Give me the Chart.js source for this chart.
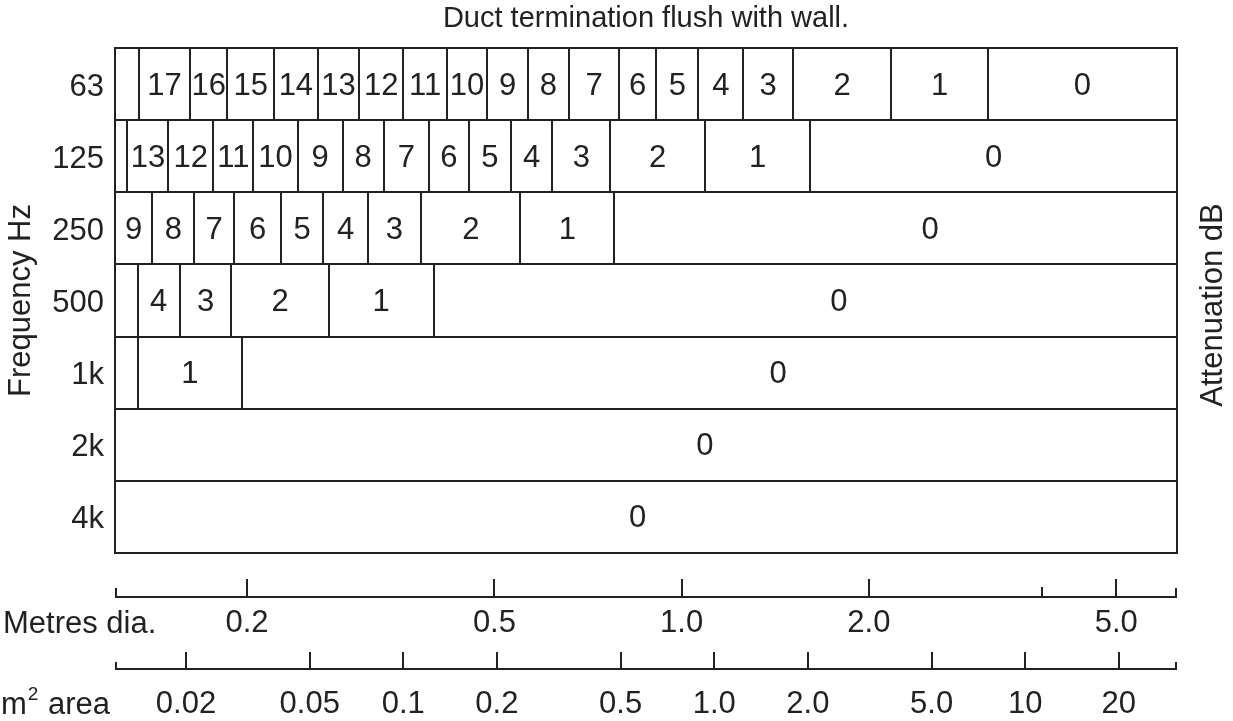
<!DOCTYPE html>
<html>
<head>
<meta charset="utf-8">
<script src="https://cdn.jsdelivr.net/npm/chart.js@4.4.0/dist/chart.umd.min.js"></script>
<style>
html,body{margin:0;padding:0;background:#fff;}
#wrap{width:1233px;height:721px;position:relative;}
</style>
</head>
<body>
<div id="wrap"><canvas id="c" width="1233" height="721"></canvas></div>
<script>
// ---- data ----
const frequencies = ['63', '125', '250', '500', '1k', '2k', '4k'];

// attenuation (dB) of each cell, left to right (null = narrow cell left unlabelled)
const dB63  = [null, 17, 16, 15, 14, 13, 12, 11, 10, 9, 8, 7, 6, 5, 4, 3, 2, 1, 0];
const dB125 = [null, 13, 12, 11, 10, 9, 8, 7, 6, 5, 4, 3, 2, 1, 0];
const dB250 = [9, 8, 7, 6, 5, 4, 3, 2, 1, 0];
const dB500 = [null, 4, 3, 2, 1, 0];
const dB1k  = [null, 1, 0];
const dB2k  = [0];
const dB4k  = [0];

// duct diameters (metres) at which the attenuation steps down
const edges63  = [0.134, 0.162, 0.186, 0.221, 0.260, 0.303, 0.357, 0.419, 0.487, 0.566, 0.659, 0.794, 0.910, 1.064, 1.256, 1.512, 2.172, 3.109];
const edges125 = [0.1285, 0.1495, 0.1766, 0.2049, 0.2412, 0.2850, 0.3318, 0.3923, 0.4549, 0.5316, 0.6198, 0.7676, 1.091, 1.609];
const edges250 = [0.1408, 0.1646, 0.1907, 0.2268, 0.2653, 0.3128, 0.3813, 0.5505, 0.7792];
const edges500 = [0.1334, 0.1559, 0.1888, 0.2706, 0.3995];
const edges1k  = [0.1334, 0.1963];
const edges2k  = [];
const edges4k  = [];

// diameter (m) at which the "0" of the widest cell is written (null = cell centre)
const zeroLabelAt = [null, null, 2.51, 1.79, 1.43, 1.09, 0.85];

// diameter axis
const diaRange = [0.1227, 6.26];
const diaTicks = [0.2, 0.5, 1.0, 2.0, 5.0];
const diaTickLabels = ['0.2', '0.5', '1.0', '2.0', '5.0'];
const diaMinorTicks = [3.8];

// area axis (m²)
const areaTicks = [0.02, 0.05, 0.1, 0.2, 0.5, 1, 2, 5, 10, 20];
const areaTickLabels = ['0.02', '0.05', '0.1', '0.2', '0.5', '1.0', '2.0', '5.0', '10', '20'];

// ---- build ----
const rowsDB = [dB63, dB125, dB250, dB500, dB1k, dB2k, dB4k];
const rowsEdges = [edges63, edges125, edges250, edges500, edges1k, edges2k, edges4k];
const areaRange = diaRange.map(d => Math.PI * d * d / 4);

const INK = '#222222';
const FONT = "'Liberation Sans', Arial, Helvetica, sans-serif";
const FS = 31;
Chart.defaults.font.family = FONT;
Chart.defaults.color = INK;

const datasets = frequencies.map((f, r) => {
  const b = [diaRange[0], ...rowsEdges[r], diaRange[1]];
  return {
    label: f + ' Hz',
    data: rowsDB[r].map((v, i) => ({ y: f, x: [b[i], b[i + 1]], dB: v })),
    backgroundColor: '#ffffff',
    borderWidth: 0,
    inflateAmount: 0,
    grouped: false,
    categoryPercentage: 1,
    barPercentage: 1
  };
});

const decor = {
  id: 'decor',
  afterDatasetsDraw(chart) {
    const ctx = chart.ctx;
    const ca = chart.chartArea;
    const xs = chart.scales.x;
    ctx.save();
    // cell outlines (crisp 2px) from the bar elements
    ctx.lineWidth = 2;
    ctx.strokeStyle = INK;
    chart.data.datasets.forEach((ds, r) => {
      chart.getDatasetMeta(r).data.forEach(el => {
        const l = Math.round(Math.min(el.x, el.base));
        const rr = Math.round(Math.max(el.x, el.base));
        const t = Math.round(el.y - el.height / 2);
        const b = Math.round(el.y + el.height / 2);
        ctx.strokeRect(l, t, rr - l, b - t);
      });
    });
    ctx.strokeRect(Math.round(ca.left), Math.round(ca.top), Math.round(ca.right) - Math.round(ca.left), Math.round(ca.bottom) - Math.round(ca.top));

    ctx.font = FS + 'px ' + FONT;
    ctx.fillStyle = INK;
    ctx.textAlign = 'center';
    ctx.textBaseline = 'middle';
    chart.data.datasets.forEach((ds, r) => {
      const meta = chart.getDatasetMeta(r);
      meta.data.forEach((el, i) => {
        const v = ds.data[i].dB;
        if (v === null || v === undefined) return;
        let cx = (el.x + el.base) / 2;
        if (i === ds.data.length - 1 && zeroLabelAt[r] !== null) {
          cx = xs.getPixelForValue(zeroLabelAt[r]);
        }
        ctx.fillText(String(v), cx, el.y + 2);
      });
    });
    ctx.restore();
  },
  afterDraw(chart) {
    const ctx = chart.ctx;
    const xs = chart.scales.x;
    const xa = chart.scales.xa;
    ctx.save();
    ctx.strokeStyle = INK;
    ctx.lineWidth = 2;
    function axis(scale, yLine, majors, minors, endLen, majLen, minLen) {
      ctx.beginPath();
      ctx.moveTo(scale.left + 1, yLine);
      ctx.lineTo(scale.right - 1, yLine);
      [scale.left + 1, scale.right - 1].forEach(px => { ctx.moveTo(px, yLine + 1); ctx.lineTo(px, yLine - endLen); });
      majors.forEach(v => { const px = Math.round(scale.getPixelForValue(v)); ctx.moveTo(px, yLine); ctx.lineTo(px, yLine - majLen); });
      minors.forEach(v => { const px = Math.round(scale.getPixelForValue(v)); ctx.moveTo(px, yLine); ctx.lineTo(px, yLine - minLen); });
      ctx.stroke();
    }
    axis(xs, Math.round(xs.top) + 44, diaTicks, diaMinorTicks, 9, 18, 10);
    axis(xa, Math.round(xa.top), areaTicks, [], 7, 17, 0);

    ctx.fillStyle = INK;
    ctx.textBaseline = 'middle';
    ctx.textAlign = 'left';
    ctx.font = FS + 'px ' + FONT;
    ctx.fillText('Metres dia.', 3, xs.top + 71);
    const ay = xa.top + 36;
    ctx.fillText('m', 1, ay);
    const mw = ctx.measureText('m').width;
    ctx.font = '19px ' + FONT;
    ctx.fillText('2', 1 + mw + 1, ay - 10);
    const tw = ctx.measureText('2').width;
    ctx.font = FS + 'px ' + FONT;
    ctx.fillText(' area', 1 + mw + tw + 2, ay);

    // right-hand title
    ctx.save();
    ctx.translate(1213, 305);
    ctx.rotate(-Math.PI / 2);
    ctx.textAlign = 'center';
    ctx.fillText('Attenuation dB', 0, 0);
    ctx.restore();
    ctx.restore();
  }
};

new Chart(document.getElementById('c'), {
  type: 'bar',
  data: { labels: frequencies, datasets },
  plugins: [decor],
  options: {
    indexAxis: 'y',
    responsive: false,
    animation: false,
    devicePixelRatio: 1,
    layout: { padding: { left: 0, right: 56, top: 0, bottom: 0 } },
    plugins: {
      legend: { display: false },
      tooltip: { enabled: false },
      title: {
        display: true,
        text: 'Duct termination flush with wall.',
        fullSize: false,
        color: INK,
        font: { size: 29, weight: 'normal' },
        padding: { top: 2, bottom: 11.2 }
      }
    },
    scales: {
      y: {
        type: 'category',
        position: 'left',
        grid: { display: false, drawTicks: false },
        border: { display: false },
        ticks: { color: INK, font: { size: FS }, padding: 11, labelOffset: 3 },
        title: { display: true, text: 'Frequency Hz', color: INK, font: { size: FS, weight: 'normal' }, padding: { top: 3, bottom: 0 } },
        afterFit(scale) { scale.width = 115; }
      },
      x: {
        type: 'logarithmic',
        position: 'bottom',
        weight: 0,
        min: diaRange[0],
        max: diaRange[1],
        bounds: 'data',
        grid: { display: false, drawTicks: false },
        border: { display: false },
        afterBuildTicks(scale) { scale.ticks = diaTicks.map(v => ({ value: v })); },
        ticks: {
          autoSkip: false, maxRotation: 0, minRotation: 0,
          color: INK, font: { size: FS }, padding: 52,
          callback(v) { const k = diaTicks.indexOf(v); return k >= 0 ? diaTickLabels[k] : ''; }
        },
        afterFit(scale) { scale.height = 116; }
      },
      xa: {
        type: 'logarithmic',
        position: 'bottom',
        weight: 1,
        min: areaRange[0],
        max: areaRange[1],
        bounds: 'data',
        grid: { display: false, drawTicks: false },
        border: { display: false },
        afterBuildTicks(scale) { scale.ticks = areaTicks.map(v => ({ value: v })); },
        ticks: {
          autoSkip: false, maxRotation: 0, minRotation: 0,
          color: INK, font: { size: FS }, padding: 17,
          callback(v) { const k = areaTicks.indexOf(v); return k >= 0 ? areaTickLabels[k] : ''; }
        },
        afterFit(scale) { scale.height = 52; }
      }
    }
  }
});
</script>
</body>
</html>
